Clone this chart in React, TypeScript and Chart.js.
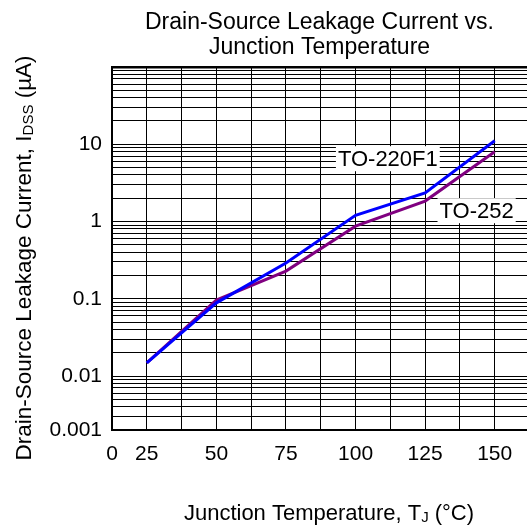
import { useEffect, useRef } from "react";
import { Chart, registerables } from "chart.js";

Chart.register(...registerables);

// ---- Data ----
const titleLines = ["Drain-Source Leakage Current vs.", "Junction Temperature"];
const temperatures = [25, 50, 75, 100, 125, 150];
const to220f1 = [0.0148, 0.0885, 0.29, 1.2, 2.35, 11.1];
const to252 = [0.0148, 0.096, 0.228, 0.87, 1.84, 8.0];

const seriesNames = ["TO-220F1", "TO-252"];
const seriesColors = ["#0000FF", "#800080"];
// curve-label anchors in data coordinates
const labelX = [111.6, 143.5];
const labelY = [6.6, 1.4];

// x axis
const xMin = 12.5;
const xMax = 161.6;
const xGridValues = [12.5, 25, 37.5, 50, 62.5, 75, 87.5, 100, 112.5, 125, 137.5, 150];
const xLabelValues = [12.5, 25, 50, 75, 100, 125, 150];
const xLabelTexts = ["0", "25", "50", "75", "100", "125", "150"];

// y axis
const yMin = 0.002;
const yMax = 100;
const yDecades = [0.001, 0.01, 0.1, 1, 10];
const yMultipliers = [1, 2, 3, 4, 5, 6, 7, 8, 9];
const yLabelValues = [0.002, 0.01, 0.1, 1, 10];
const yLabelTexts = ["0.001", "0.01", "0.1", "1", "10"];

const FONT = "'Liberation Sans', Arial, Helvetica, sans-serif";

const near = (a: number, b: number) => Math.abs(a - b) <= Math.abs(b) * 1e-6 + 1e-12;

function yGridValues(): number[] {
  const out: number[] = [];
  for (const d of yDecades) {
    for (const m of yMultipliers) {
      const v = +(d * m).toPrecision(6);
      if (v >= yMin - 1e-12 && v <= yMax + 1e-9) out.push(v);
    }
  }
  out.push(yMax);
  const uniq: number[] = [];
  for (const v of out) if (!uniq.some((u) => near(u, v))) uniq.push(v);
  uniq.sort((a, b) => a - b);
  if (!uniq.some((u) => near(u, yMin))) uniq.unshift(yMin);
  return uniq;
}

type Part = { text: string; sub?: boolean };

function drawRich(ctx: CanvasRenderingContext2D, parts: Part[], cx: number, baseY: number, size: number, subSize: number, subShift: number) {
  const widths = parts.map((p) => {
    ctx.font = `${p.sub ? subSize : size}px ${FONT}`;
    return ctx.measureText(p.text).width;
  });
  const total = widths.reduce((a, b) => a + b, 0);
  let x = cx - total / 2;
  ctx.textAlign = "left";
  ctx.textBaseline = "alphabetic";
  parts.forEach((p, i) => {
    ctx.font = `${p.sub ? subSize : size}px ${FONT}`;
    ctx.fillText(p.text, x, baseY + (p.sub ? subShift : 0));
    x += widths[i];
  });
}

const textPlugin = {
  id: "customText",
  beforeDatasetsDraw(chart: any) {
    const ctx: CanvasRenderingContext2D = chart.ctx;
    const xs = chart.scales.x;
    const ys = chart.scales.y;
    ctx.save();
    ctx.font = `22px ${FONT}`;
    seriesNames.forEach((name, i) => {
      const px = xs.getPixelForValue(labelX[i]);
      const py = ys.getPixelForValue(labelY[i]);
      const w = ctx.measureText(name).width;
      ctx.fillStyle = "#FFFFFF";
      ctx.fillRect(px - w / 2 - 2, py - 12, w + 4, 25);
      ctx.fillStyle = "#000000";
      ctx.textAlign = "center";
      ctx.textBaseline = "alphabetic";
      ctx.fillText(name, px, py + 8);
    });
    ctx.restore();
  },
  afterDraw(chart: any) {
    const ctx: CanvasRenderingContext2D = chart.ctx;
    ctx.save();
    ctx.fillStyle = "#000000";
    // x-axis title
    drawRich(
      ctx,
      [{ text: "Junction Temperature, T" }, { text: "J", sub: true }, { text: " (°C)" }],
      329,
      520,
      22,
      15,
      2
    );
    // y-axis title
    ctx.translate(31, 258);
    ctx.rotate(-Math.PI / 2);
    drawRich(
      ctx,
      [{ text: "Drain-Source Leakage Current, I" }, { text: "DSS", sub: true }, { text: " (µA)" }],
      0,
      0,
      22.5,
      15,
      2
    );
    ctx.restore();
  },
};

export default function App() {
  const ref = useRef<HTMLCanvasElement | null>(null);

  useEffect(() => {
    if (!ref.current) return;
    Chart.defaults.font.family = FONT;
    const gridY = yGridValues();
    const chart = new Chart(ref.current, {
      type: "line",
      data: {
        datasets: [to220f1, to252].map((vals, i) => ({
          label: seriesNames[i],
          data: temperatures.map((t, j) => ({ x: t, y: vals[j] })),
          borderColor: seriesColors[i],
          backgroundColor: seriesColors[i],
          borderWidth: 3,
          pointRadius: 0,
          tension: 0,
          fill: false,
        })),
      },
      options: {
        responsive: false,
        animation: false,
        layout: { padding: 0 },
        plugins: {
          legend: { display: false },
          tooltip: { enabled: false },
          title: {
            display: true,
            text: titleLines,
            fullSize: false,
            color: "#000",
            font: { size: 23, lineHeight: 25 / 23, weight: "normal", family: FONT },
            padding: { top: 10, bottom: 7 },
          },
        },
        scales: {
          x: {
            type: "linear",
            min: xMin,
            max: xMax,
            afterBuildTicks: (axis: any) => {
              axis.ticks = xGridValues.map((v) => ({ value: v }));
            },
            afterFit: (s: any) => {
              s.height = 97;
            },
            grid: { color: "#000", lineWidth: 1, drawTicks: false },
            border: { display: true, color: "#000", width: 2 },
            ticks: {
              autoSkip: false,
              maxRotation: 0,
              padding: 12,
              color: "#000",
              font: { size: 21, family: FONT },
              callback: (v: any) => {
                const i = xLabelValues.findIndex((u) => near(u, Number(v)));
                return i >= 0 ? xLabelTexts[i] : "";
              },
            },
          },
          y: {
            type: "logarithmic",
            min: yMin,
            max: yMax,
            afterBuildTicks: (axis: any) => {
              axis.ticks = gridY.map((v) => ({ value: v }));
            },
            afterFit: (s: any) => {
              s.width = 112;
            },
            grid: {
              color: "#000",
              lineWidth: (c: any) => (c.tick && near(c.tick.value, yMax) ? 2.5 : 1),
              drawTicks: false,
            },
            border: { display: true, color: "#000", width: 2 },
            ticks: {
              autoSkip: false,
              padding: 10,
              color: "#000",
              font: { size: 21, family: FONT },
              callback: (v: any) => {
                const i = yLabelValues.findIndex((u) => near(u, Number(v)));
                return i >= 0 ? yLabelTexts[i] : "";
              },
            },
          },
        },
      } as any,
      plugins: [textPlugin],
    });
    return () => chart.destroy();
  }, []);

  return (
    <div style={{ position: "fixed", left: 0, top: 0, width: 527, height: 527, background: "#fff" }}>
      <canvas ref={ref} width={527} height={527} style={{ display: "block" }} />
    </div>
  );
}
